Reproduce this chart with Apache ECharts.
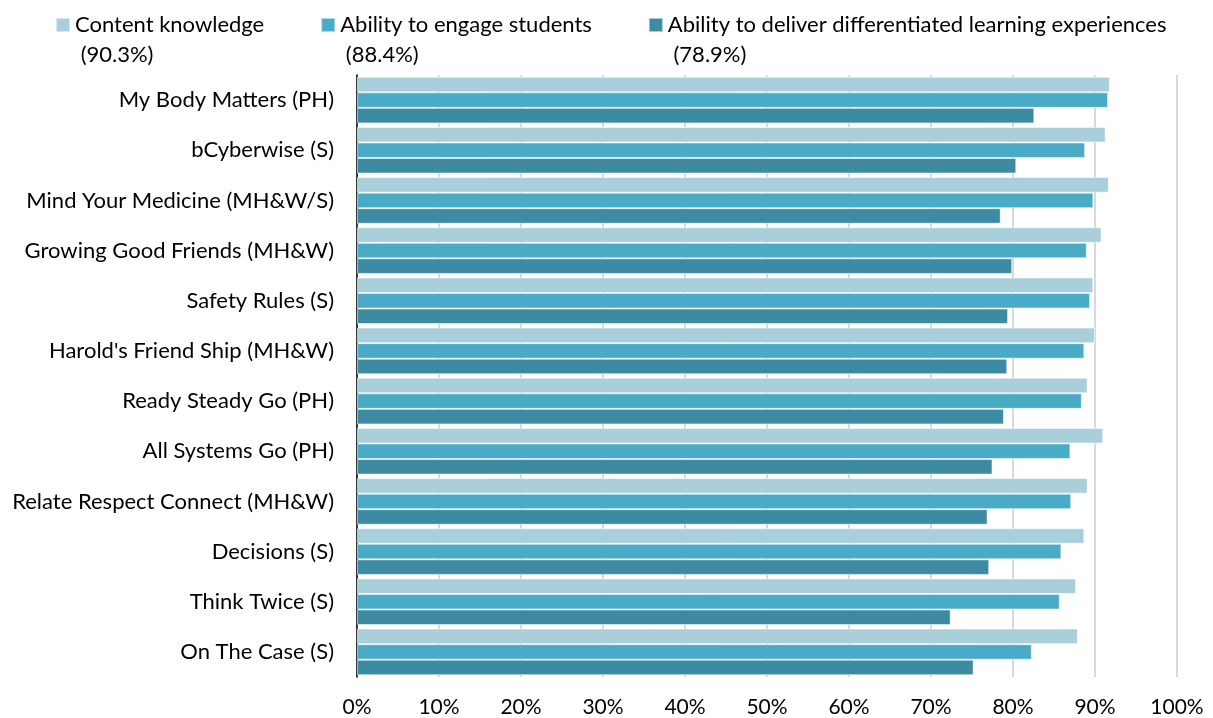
<!DOCTYPE html>
<html>
<head>
<meta charset="utf-8">
<script src="https://cdn.jsdelivr.net/npm/echarts@6/dist/echarts.min.js"></script>
<style>
  html, body { margin: 0; padding: 0; background: #fff; }
  #chart { width: 1213px; height: 718px; }
</style>
</head>
<body>
<div id="chart"></div>
<script>
// programmes, top to bottom
var categories = [
    "My Body Matters (PH)",
    "bCyberwise (S)",
    "Mind Your Medicine (MH&W/S)",
    "Growing Good Friends (MH&W)",
    "Safety Rules (S)",
    "Harold's Friend Ship (MH&W)",
    "Ready Steady Go (PH)",
    "All Systems Go (PH)",
    "Relate Respect Connect (MH&W)",
    "Decisions (S)",
    "Think Twice (S)",
    "On The Case (S)"
];
var seriesNames = ["Content knowledge", "Ability to engage students", "Ability to deliver differentiated learning experiences"];
var averages = ["90.3%", "88.4%", "78.9%"];
var contentKnowledge = [91.8, 91.3, 91.7, 90.8, 89.8, 90.0, 89.1, 91.0, 89.1, 88.7, 87.7, 87.9];
var engageStudents  = [91.6, 88.8, 89.8, 89.0, 89.4, 88.7, 88.4, 87.0, 87.1, 85.9, 85.7, 82.3];
var differentiated  = [82.6, 80.4, 78.5, 79.9, 79.4, 79.3, 78.9, 77.5, 76.9, 77.1, 72.4, 75.2];
var xTicks = [0, 10, 20, 30, 40, 50, 60, 70, 80, 90, 100];

var colors = ["#a9cfdb", "#4aabc6", "#3d8aa3"];
var font = "Lato";

function makeSeries(name, data) {
    return {
        name: name,
        type: "bar",
        data: data,
        barGap: "0%",
        barCategoryGap: "7%",
        itemStyle: { borderColor: "rgba(255,255,255,0.55)", borderWidth: 1 }
    };
}

var chart = echarts.init(document.getElementById("chart"));
chart.setOption({
    animation: false,
    color: colors,
    textStyle: { fontFamily: font },
    legend: {
        left: 50,
        top: -25,
        itemWidth: 14,
        itemHeight: 14,
        itemGap: 56,
        icon: "rect",
        data: seriesNames,
        // blank first line so the icon sits level with the name line
        formatter: function (name) {
            return " \n" + name + "\n (" + averages[seriesNames.indexOf(name)] + ")";
        },
        textStyle: {
            fontFamily: font,
            fontSize: 22,
            color: "#000",
            lineHeight: 30
        }
    },
    grid: { left: 357, right: 36, top: 75, bottom: 41 },
    xAxis: {
        type: "value",
        min: 0,
        max: 100,
        interval: 10,
        axisLine: { show: false },
        axisTick: { show: false },
        splitLine: { show: true, lineStyle: { color: "#d9d9d9", width: 2 } },
        axisLabel: {
            margin: 20,
            fontSize: 21,
            color: "#000",
            fontFamily: font,
            formatter: function (v) { return xTicks.indexOf(v) >= 0 ? v + "%" : ""; }
        }
    },
    yAxis: {
        type: "category",
        data: categories,
        inverse: true,
        axisTick: { show: false },
        axisLine: { show: true, lineStyle: { color: "#000", width: 1.5 } },
        axisLabel: { margin: 23, fontSize: 22, color: "#000", fontFamily: font }
    },
    series: [
        makeSeries(seriesNames[0], contentKnowledge),
        makeSeries(seriesNames[1], engageStudents),
        makeSeries(seriesNames[2], differentiated)
    ]
});
</script>
</body>
</html>
